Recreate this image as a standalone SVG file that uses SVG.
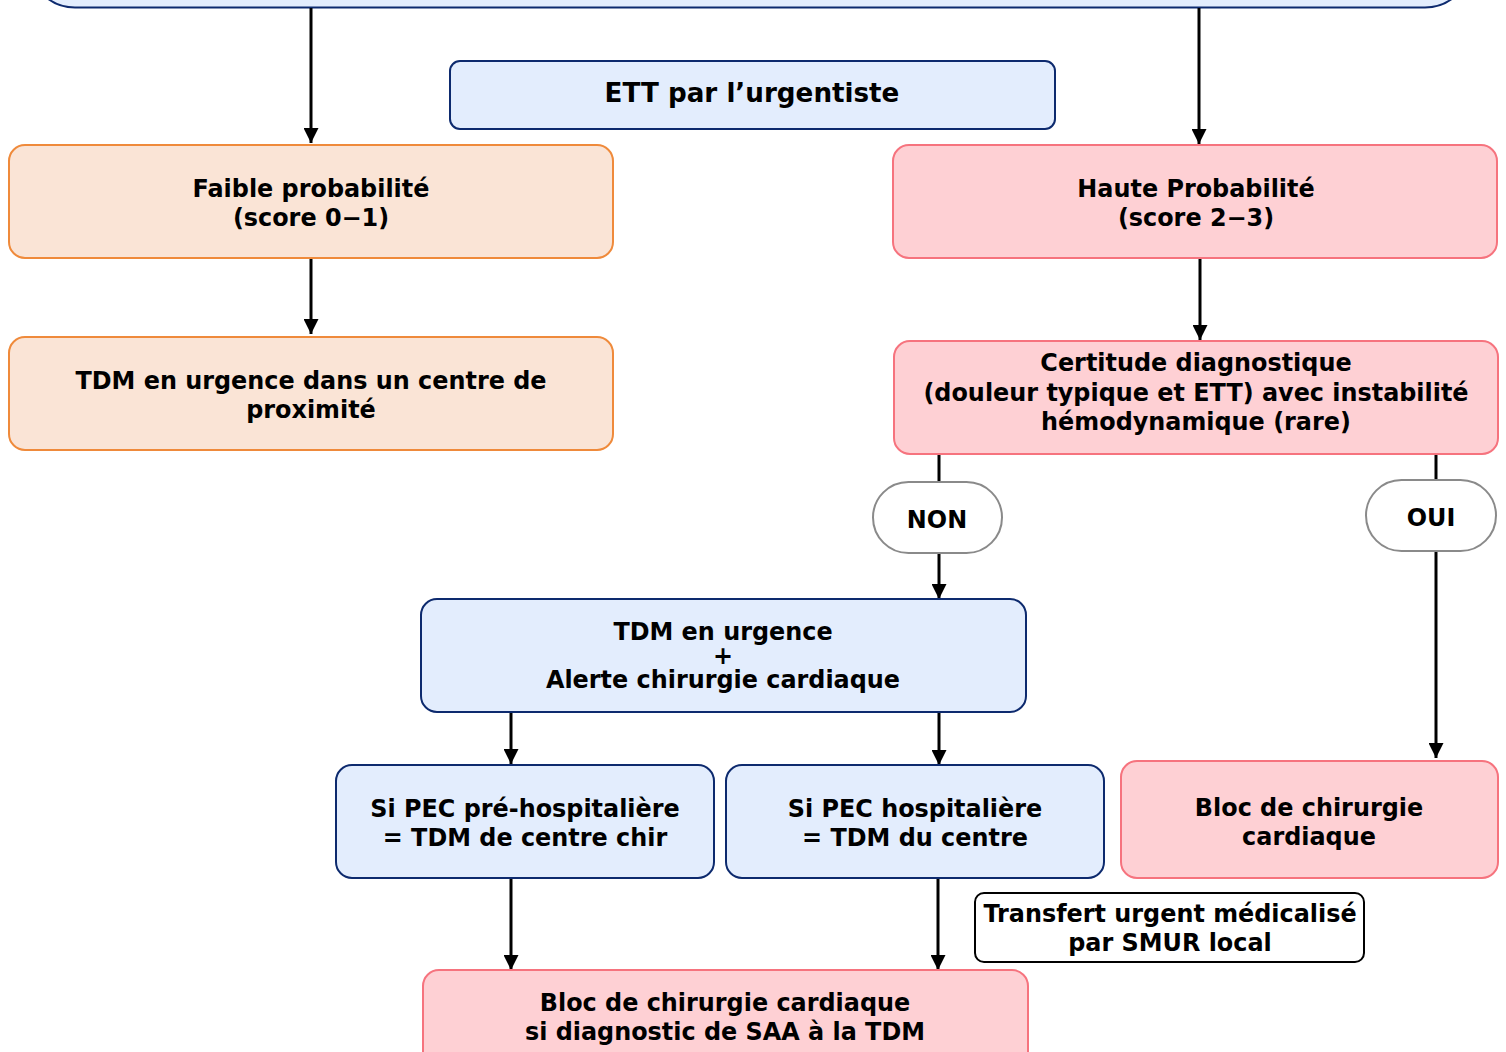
<svg xmlns="http://www.w3.org/2000/svg" width="1506" height="1052" viewBox="0 0 1506 1052">
<style>
  text { font-family: "DejaVu Sans", Verdana, sans-serif; font-weight: bold; font-size: 23.9px; fill: #000; text-anchor: middle; }
  .blue { fill: #e3edfd; stroke: #0d2a6e; stroke-width: 2; }
  .peach { fill: #fae4d6; stroke: #ef8a3b; stroke-width: 2; }
  .pink { fill: #fed0d4; stroke: #f6737e; stroke-width: 2; }
  .pill { fill: #ffffff; stroke: #8a8a8a; stroke-width: 2; }
  .note { fill: #ffffff; stroke: #000000; stroke-width: 2; }
  .conn line { stroke: #000; stroke-width: 3; fill: none; }
</style>
<defs>
  <marker id="arr" viewBox="0 0 10 10" refX="10" refY="5" markerWidth="5.5" markerHeight="5" markerUnits="strokeWidth" orient="auto">
    <path d="M0,0 L10,5 L0,10 Z" fill="#000"/>
  </marker>
</defs>
<rect width="1506" height="1052" fill="#ffffff"/>

<g id="top">
  <rect class="blue" x="30" y="-80" width="1440" height="87.5" rx="45"/>
</g>

<g class="conn" id="connectors">
  <line x1="311" y1="8" x2="311" y2="143" marker-end="url(#arr)"/>
  <line x1="1199" y1="8" x2="1199" y2="144" marker-end="url(#arr)"/>
  <line x1="311" y1="258" x2="311" y2="334" marker-end="url(#arr)"/>
  <line x1="1200" y1="258" x2="1200" y2="340" marker-end="url(#arr)"/>
  <line x1="939" y1="454" x2="939" y2="483"/>
  <line x1="939" y1="553" x2="939" y2="599" marker-end="url(#arr)"/>
  <line x1="1436" y1="454" x2="1436" y2="481"/>
  <line x1="1436" y1="551" x2="1436" y2="758" marker-end="url(#arr)"/>
  <line x1="511" y1="712" x2="511" y2="764" marker-end="url(#arr)"/>
  <line x1="939" y1="712" x2="939" y2="765" marker-end="url(#arr)"/>
  <line x1="511" y1="878" x2="511" y2="970" marker-end="url(#arr)"/>
  <line x1="938" y1="878" x2="938" y2="970" marker-end="url(#arr)"/>
</g>

<g id="ett">
  <rect class="blue" x="450" y="61" width="605" height="68" rx="10"/>
  <text x="752" y="102" style="font-size:26.2px">ETT par l’urgentiste</text>
</g>

<g id="faible">
  <rect class="peach" x="9" y="145" width="604" height="113" rx="16"/>
  <text x="311" y="197">Faible probabilité</text>
  <text x="311" y="226">(score 0−1)</text>
</g>

<g id="tdm-proximite">
  <rect class="peach" x="9" y="337" width="604" height="113" rx="16"/>
  <text x="311" y="389">TDM en urgence dans un centre de</text>
  <text x="311" y="418">proximité</text>
</g>

<g id="haute">
  <rect class="pink" x="893" y="145" width="604" height="113" rx="16"/>
  <text x="1196" y="197">Haute Probabilité</text>
  <text x="1196" y="226">(score 2−3)</text>
</g>

<g id="certitude">
  <rect class="pink" x="894" y="341" width="604" height="113" rx="16"/>
  <text x="1196" y="371">Certitude diagnostique</text>
  <text x="1196" y="401">(douleur typique et ETT) avec instabilité</text>
  <text x="1196" y="430">hémodynamique (rare)</text>
</g>

<g id="non">
  <rect class="pill" x="873" y="482" width="129" height="71" rx="35.5"/>
  <text x="937" y="528">NON</text>
</g>

<g id="oui">
  <rect class="pill" x="1366" y="480" width="130" height="71" rx="35.5"/>
  <text x="1431" y="526">OUI</text>
</g>

<g id="tdm-alerte">
  <rect class="blue" x="421" y="599" width="605" height="113" rx="16"/>
  <text x="723" y="640">TDM en urgence</text>
  <text x="723" y="664">+</text>
  <text x="723" y="688">Alerte chirurgie cardiaque</text>
</g>

<g id="bloc-droite">
  <rect class="pink" x="1121" y="761" width="377" height="117" rx="16"/>
  <text x="1309" y="816">Bloc de chirurgie</text>
  <text x="1309" y="845">cardiaque</text>
</g>

<g id="pec-pre">
  <rect class="blue" x="336" y="765" width="378" height="113" rx="16"/>
  <text x="525" y="817">Si PEC pré-hospitalière</text>
  <text x="525" y="846">= TDM de centre chir</text>
</g>

<g id="pec-hosp">
  <rect class="blue" x="726" y="765" width="378" height="113" rx="16"/>
  <text x="915" y="817">Si PEC hospitalière</text>
  <text x="915" y="846">= TDM du centre</text>
</g>

<g id="transfert">
  <rect class="note" x="975" y="893" width="389" height="69" rx="9"/>
  <text x="1170" y="922">Transfert urgent médicalisé</text>
  <text x="1170" y="951">par SMUR local</text>
</g>

<g id="bloc-bas">
  <rect class="pink" x="423" y="970" width="605" height="120" rx="16"/>
  <text x="725" y="1011">Bloc de chirurgie cardiaque</text>
  <text x="725" y="1040">si diagnostic de SAA à la TDM</text>
</g>
</svg>
